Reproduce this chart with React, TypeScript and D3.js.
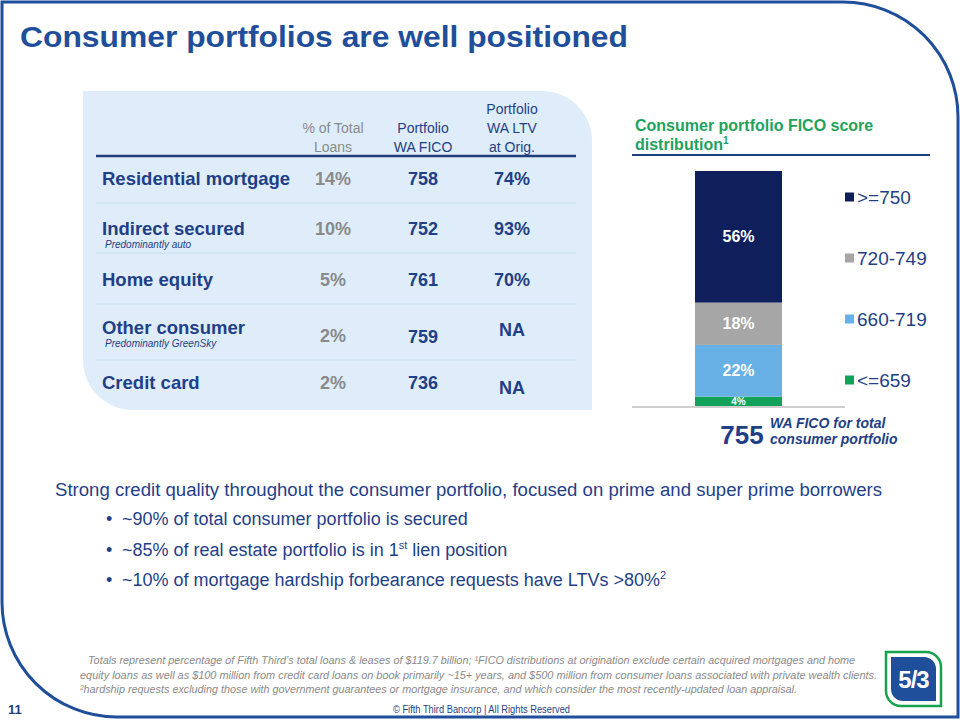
import React from "react";
import * as d3 from "d3";

// ---------- data ----------
const rowLabels = ["Residential mortgage", "Indirect secured", "Home equity", "Other consumer", "Credit card"];
const rowNotes = ["", "Predominantly auto", "", "Predominantly GreenSky", ""];
const pctOfTotalLoans = ["14%", "10%", "5%", "2%", "2%"];
const portfolioWaFico = ["758", "752", "761", "759", "736"];
const portfolioWaLtv = ["74%", "93%", "70%", "NA", "NA"];

const ficoBands = ["<=659", "660-719", "720-749", ">=750"];
const ficoShares = [4, 22, 18, 56];
const legendOrder = [">=750", "720-749", "660-719", "<=659"];
const totalWaFico = "755";

const bullets = [
  ["~90% of total consumer portfolio is secured"],
  ["~85% of real estate portfolio is in 1", "st", " lien position"],
  ["~10% of mortgage hardship forbearance requests have LTVs >80%", "2", ""],
];
const footnotes = [
  "Totals represent percentage of Fifth Third’s total loans & leases of $119.7 billion; ¹FICO distributions at origination exclude certain acquired mortgages and home",
  "equity loans as well as $100 million from credit card loans on book primarily ~15+ years, and $500 million from consumer loans associated with private wealth clients.",
  "²hardship requests excluding those with government guarantees or  mortgage insurance, and which consider the most recently-updated loan appraisal.",
];

// ---------- style / layout ----------
const FONT = "'Liberation Sans', Arial, sans-serif";
const NAVY = "#1f3f87";
const FRAME = "#1f4e9a";
const GRAY = "#8a8a8a";
const colors: Record<string, string> = {
  ">=750": "#0e1f5b",
  "720-749": "#a6a6a6",
  "660-719": "#68b1e6",
  "<=659": "#12a25a",
};

const rowY = [179, 229, 280, 328, 383];
const valueDy = [
  [0, 0, 0],
  [0, 0, 0],
  [0, 0, 0],
  [8, 9, 2],
  [0, 0, 5],
];
const colX = [333, 423, 512];
const sepY = [203, 253, 304, 360];

export default function App() {
  const y = d3.scaleLinear().domain([0, 100]).range([406, 171]);
  const x = d3.scaleBand().domain(["total"]).range([632, 845]).paddingInner(0).paddingOuter(0);
  const barX = 695;
  const barW = 87;

  const datum: Record<string, number> = {};
  ficoBands.forEach((b, i) => (datum[b] = ficoShares[i]));
  const series = d3.stack<Record<string, number>>().keys(ficoBands)([datum]);

  const legendY = d3.scalePoint().domain(legendOrder).range([197, 380]);

  const framePath = "M 2 2 H 843 A 115 115 0 0 1 958 117 V 717 H 117 A 115 115 0 0 1 2 602 Z";
  const tableBg = "M 83 91 H 542 A 50 50 0 0 1 592 141 V 410 H 133 A 50 50 0 0 1 83 360 Z";

  return (
    <svg
      width={960}
      height={720}
      viewBox="0 0 960 720"
      style={{ position: "absolute", left: 0, top: 0, background: "#fff" }}
      fontFamily={FONT}
    >
      <rect x={0} y={0} width={960} height={720} fill="#fff" />
      <path d={framePath} fill="none" stroke={FRAME} strokeWidth={3} />

      {/* title */}
      <text x={20} y={47} fontSize={29} fontWeight="bold" fill={FRAME} textLength={608} lengthAdjust="spacingAndGlyphs">
        Consumer portfolios are well positioned
      </text>

      {/* table */}
      <path d={tableBg} fill="#deedf9" />
      <g fontSize={14} textAnchor="middle">
        <text x={colX[0]} y={133} fill={GRAY}>% of Total</text>
        <text x={colX[0]} y={152} fill={GRAY}>Loans</text>
        <text x={colX[1]} y={133} fill={NAVY}>Portfolio</text>
        <text x={colX[1]} y={152} fill={NAVY}>WA FICO</text>
        <text x={colX[2]} y={114} fill={NAVY}>Portfolio</text>
        <text x={colX[2]} y={133} fill={NAVY}>WA LTV</text>
        <text x={colX[2]} y={152} fill={NAVY}>at Orig.</text>
      </g>
      <line x1={96} x2={576} y1={156} y2={156} stroke="#1f3f7a" strokeWidth={2.5} />
      {sepY.map((sy, i) => (
        <line key={i} x1={96} x2={576} y1={sy} y2={sy} stroke="#c8dcee" strokeWidth={1} />
      ))}
      {rowLabels.map((lab, i) => (
        <g key={lab}>
          <text x={102} y={rowY[i]} dy="0.35em" fontSize={18.5} fontWeight="bold" fill={NAVY}>
            {lab}
          </text>
          {rowNotes[i] && (
            <text x={105} y={rowY[i] + 15} dy="0.35em" fontSize={10} fontStyle="italic" fill={NAVY}>
              {rowNotes[i]}
            </text>
          )}
          <text x={colX[0]} y={rowY[i] + valueDy[i][0]} dy="0.35em" fontSize={18} fontWeight="bold" fill={GRAY} textAnchor="middle">
            {pctOfTotalLoans[i]}
          </text>
          <text x={colX[1]} y={rowY[i] + valueDy[i][1]} dy="0.35em" fontSize={18} fontWeight="bold" fill={NAVY} textAnchor="middle">
            {portfolioWaFico[i]}
          </text>
          <text x={colX[2]} y={rowY[i] + valueDy[i][2]} dy="0.35em" fontSize={18} fontWeight="bold" fill={NAVY} textAnchor="middle">
            {portfolioWaLtv[i]}
          </text>
        </g>
      ))}

      {/* chart title */}
      <g fontSize={16} fontWeight="bold" fill="#1ea25e">
        <text x={635} y={131}>Consumer portfolio FICO score</text>
        <text x={635} y={150}>
          distribution
          <tspan fontSize={10} dy={-6}>1</tspan>
        </text>
      </g>
      <line x1={632} x2={930} y1={155} y2={155} stroke="#1f3f7a" strokeWidth={2} />

      {/* stacked bar */}
      {series.map((s) => {
        const d = s[0];
        const key = s.key;
        const y0 = y(d[0]);
        const y1 = y(d[1]);
        const val = d[1] - d[0];
        const small = val < 8;
        return (
          <g key={key}>
            <rect x={barX} y={y1} width={barW} height={y0 - y1} fill={colors[key]} />
            <text
              x={barX + barW / 2}
              y={(y0 + y1) / 2}
              dy="0.35em"
              textAnchor="middle"
              fontSize={small ? 10 : 16}
              fontWeight="bold"
              fill="#fff"
            >
              {val}%
            </text>
          </g>
        );
      })}
      <line x1={x.range()[0]} x2={x.range()[1]} y1={407} y2={407} stroke="#a0a0a0" strokeWidth={1} />

      {/* legend */}
      {legendOrder.map((k) => (
        <g key={k}>
          <rect x={845} y={legendY(k)! - 4.5} width={9} height={9} fill={colors[k]} />
          <text x={857} y={legendY(k)!} dy="0.35em" fontSize={19} fill={NAVY}>
            {k}
          </text>
        </g>
      ))}

      {/* WA FICO */}
      <text x={742} y={444} textAnchor="middle" fontSize={26} fontWeight="bold" fill={NAVY}>
        {totalWaFico}
      </text>
      <g fontSize={14} fontWeight="bold" fontStyle="italic" fill={NAVY}>
        <text x={770} y={428}>WA FICO for total</text>
        <text x={770} y={444}>consumer portfolio</text>
      </g>

      {/* body text */}
      <text x={55} y={496} fontSize={18} fill={NAVY} textLength={827} lengthAdjust="spacingAndGlyphs">
        Strong credit quality throughout the consumer portfolio, focused on prime and super prime borrowers
      </text>
      {bullets.map((b, i) => (
        <g key={i}>
          <text x={106} y={525 + i * 30.5} fontSize={18} fill={NAVY}>•</text>
          <text x={122} y={525 + i * 30.5} fontSize={18} fill={NAVY}>
            {b[0]}
            {b.length > 1 && <tspan fontSize={11} dy={-7}>{b[1]}</tspan>}
            {b.length > 1 && b[2] && <tspan dy={7}>{b[2]}</tspan>}
          </text>
        </g>
      ))}

      {/* footnotes */}
      <g fontSize={11} fontStyle="italic" fill={GRAY}>
        <text x={88} y={664} textLength={767} lengthAdjust="spacingAndGlyphs">{footnotes[0]}</text>
        <text x={80} y={679} textLength={797} lengthAdjust="spacingAndGlyphs">{footnotes[1]}</text>
        <text x={80} y={693} textLength={717} lengthAdjust="spacingAndGlyphs">{footnotes[2]}</text>
      </g>

      {/* footer */}
      <text x={8} y={714} fontSize={13} fontWeight="bold" fill={NAVY}>11</text>
      <text x={393} y={713} fontSize={11} fill={NAVY} textLength={177} lengthAdjust="spacingAndGlyphs">
        © Fifth Third Bancorp | All Rights Reserved
      </text>

      {/* logo */}
      <path d="M 886 652 H 926 A 15 15 0 0 1 941 667 V 706 H 901 A 15 15 0 0 1 886 691 Z" fill="#fff" stroke="#16a34f" strokeWidth={2.5} />
      <path d="M 891 657 H 924 A 12 12 0 0 1 936 669 V 701 H 903 A 12 12 0 0 1 891 689 Z" fill="#1f4e9a" />
      <text x={913.5} y={688} textAnchor="middle" fontSize={24} fontWeight="bold" fill="#fff" letterSpacing={-1}>
        5/3
      </text>
    </svg>
  );
}
